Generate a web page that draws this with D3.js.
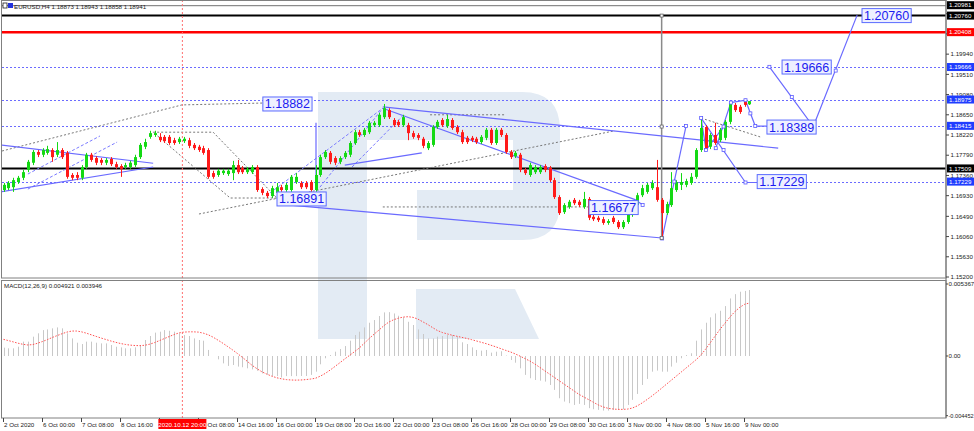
<!DOCTYPE html>
<html><head><meta charset="utf-8">
<script src="https://cdn.jsdelivr.net/npm/d3@7"></script>
<style>body{margin:0;background:#fff;overflow:hidden}svg{display:block;font-family:"Liberation Sans",Arial,sans-serif}</style>
</head><body><svg id="c" width="974" height="431"></svg>
<script>
// ---------- DATA ----------
const xLabels = ["2 Oct 2020","6 Oct 00:00","7 Oct 08:00","8 Oct 16:00","12 Oct 00:00","13 Oct 08:00","14 Oct 16:00","16 Oct 00:00","19 Oct 08:00","20 Oct 16:00","22 Oct 00:00","23 Oct 08:00","26 Oct 16:00","28 Oct 00:00","29 Oct 08:00","30 Oct 16:00","3 Nov 00:00","4 Nov 08:00","5 Nov 16:00","9 Nov 00:00"];
const priceTicks = [1.15200,1.15630,1.16060,1.16490,1.16930,1.17360,1.17790,1.18220,1.18650,1.19080,1.19510,1.19940,1.20370,1.20800];
const open = [1.1705,1.1709,1.1711,1.1722,1.1731,1.1748,1.1763,1.1786,1.1780,1.1784,
1.1790,1.1780,1.1790,1.1784,1.1737,1.1737,1.1731,1.1754,1.1780,1.1773,
1.1769,1.1763,1.1771,1.1760,1.1756,1.1754,1.1754,1.1758,1.1775,1.1797,
1.1818,1.1822,1.1818,1.1818,1.1818,1.1811,1.1807,1.1809,1.1811,1.1801,
1.1797,1.1794,1.1790,1.1741,1.1737,1.1741,1.1739,1.1741,1.1758,1.1752,
1.1743,1.1743,1.1754,1.1707,1.1699,1.1692,1.1699,1.1711,1.1705,1.1705,
1.1722,1.1720,1.1720,1.1722,1.1705,1.1737,1.1775,1.1784,1.1773,1.1765,
1.1775,1.1780,1.1805,1.1828,1.1822,1.1828,1.1843,1.1843,1.1860,1.1875,
1.1854,1.1850,1.1843,1.1843,1.1826,1.1822,1.1814,1.1794,1.1801,1.1839,
1.1854,1.1841,1.1854,1.1839,1.1828,1.1816,1.1816,1.1814,1.1807,1.1816,
1.1833,1.1805,1.1833,1.1822,1.1786,1.1777,1.1780,1.1748,1.1737,1.1743,
1.1743,1.1756,1.1752,1.1726,1.1690,1.1658,1.1669,1.1684,1.1680,1.1669,
1.1686,1.1648,1.1646,1.1643,1.1635,1.1646,1.1637,1.1626,1.1637,1.1652,
1.1673,1.1694,1.1701,1.1709,1.1711,1.1684,1.1656,1.1673,1.1705,1.1716,
1.1716,1.1720,1.1733,1.1790,1.1839,1.1797,1.1822,1.1811,1.1816,1.1850,
1.1886,1.1882,1.1896,1.18873];
const high = [1.1720,1.1724,1.1731,1.1735,1.1748,1.1769,1.1790,1.1790,1.1794,1.1799,
1.1794,1.1807,1.1794,1.1788,1.1741,1.1743,1.1758,1.1784,1.1784,1.1777,
1.1773,1.1773,1.1775,1.1765,1.1760,1.1763,1.1767,1.1780,1.1805,1.1814,
1.1831,1.1831,1.1826,1.1822,1.1822,1.1816,1.1818,1.1818,1.1816,1.1805,
1.1801,1.1799,1.1794,1.1746,1.1750,1.1750,1.1750,1.1767,1.1769,1.1756,
1.1754,1.1758,1.1758,1.1711,1.1703,1.1714,1.1720,1.1716,1.1720,1.1737,
1.1741,1.1724,1.1724,1.1726,1.1758,1.1780,1.1790,1.1788,1.1777,1.1777,
1.1788,1.1809,1.1833,1.1833,1.1837,1.1852,1.1852,1.1869,1.1888,1.1879,
1.1858,1.1854,1.1865,1.1848,1.1831,1.1826,1.1818,1.1809,1.1843,1.1854,
1.1858,1.1865,1.1858,1.1843,1.1833,1.1820,1.1820,1.1818,1.1822,1.1837,
1.1837,1.1837,1.1837,1.1826,1.1790,1.1788,1.1784,1.1752,1.1763,1.1758,
1.1758,1.1760,1.1756,1.1731,1.1694,1.1677,1.1684,1.1688,1.1684,1.1701,
1.1690,1.1652,1.1650,1.1648,1.1643,1.1650,1.1641,1.1641,1.1656,1.1682,
1.1699,1.1716,1.1720,1.1726,1.1769,1.1688,1.1680,1.1743,1.1726,1.1741,
1.1729,1.1741,1.1794,1.1858,1.1843,1.1826,1.1848,1.1837,1.1854,1.1894,
1.1890,1.1886,1.1899,1.18943];
const low = [1.1701,1.1705,1.1701,1.1718,1.1726,1.1743,1.1758,1.1775,1.1775,1.1780,
1.1765,1.1775,1.1771,1.1729,1.1726,1.1726,1.1726,1.1750,1.1765,1.1758,
1.1758,1.1758,1.1756,1.1750,1.1733,1.1750,1.1750,1.1754,1.1771,1.1792,
1.1814,1.1818,1.1807,1.1805,1.1801,1.1801,1.1803,1.1805,1.1794,1.1790,
1.1786,1.1780,1.1729,1.1729,1.1733,1.1737,1.1735,1.1726,1.1739,1.1739,
1.1739,1.1739,1.1701,1.1694,1.1688,1.1688,1.1694,1.1701,1.1701,1.1701,
1.1718,1.1707,1.1707,1.1701,1.1701,1.1733,1.1771,1.1760,1.1758,1.1760,
1.1771,1.1775,1.1801,1.1818,1.1818,1.1824,1.1839,1.1839,1.1856,1.1856,
1.1839,1.1839,1.1839,1.1811,1.1814,1.1811,1.1794,1.1790,1.1797,1.1835,
1.1839,1.1837,1.1833,1.1824,1.1803,1.1803,1.1807,1.1803,1.1803,1.1811,
1.1801,1.1801,1.1818,1.1782,1.1771,1.1773,1.1743,1.1737,1.1733,1.1739,
1.1739,1.1743,1.1722,1.1686,1.1652,1.1654,1.1665,1.1673,1.1669,1.1665,
1.1641,1.1639,1.1637,1.1631,1.1631,1.1633,1.1622,1.1622,1.1633,1.1648,
1.1669,1.1690,1.1697,1.1705,1.1680,1.1603,1.1652,1.1669,1.1701,1.1705,
1.1711,1.1716,1.1729,1.1786,1.1790,1.1792,1.1801,1.1807,1.1811,1.1845,
1.1871,1.1867,1.1882,1.18858];
const close = [1.1716,1.1720,1.1726,1.1731,1.1743,1.1765,1.1786,1.1780,1.1790,1.1792,
1.1775,1.1790,1.1775,1.1733,1.1731,1.1731,1.1754,1.1780,1.1769,1.1763,
1.1763,1.1769,1.1760,1.1754,1.1750,1.1758,1.1763,1.1775,1.1801,1.1807,
1.1826,1.1826,1.1811,1.1809,1.1805,1.1805,1.1814,1.1814,1.1799,1.1794,
1.1790,1.1784,1.1733,1.1733,1.1746,1.1746,1.1746,1.1758,1.1743,1.1743,
1.1750,1.1754,1.1705,1.1699,1.1692,1.1709,1.1711,1.1705,1.1716,1.1733,
1.1733,1.1711,1.1711,1.1705,1.1737,1.1775,1.1786,1.1765,1.1763,1.1773,
1.1784,1.1805,1.1828,1.1822,1.1833,1.1848,1.1848,1.1865,1.1879,1.1860,
1.1843,1.1843,1.1860,1.1826,1.1818,1.1816,1.1799,1.1805,1.1839,1.1850,
1.1843,1.1856,1.1837,1.1828,1.1807,1.1807,1.1811,1.1807,1.1818,1.1833,
1.1805,1.1833,1.1822,1.1786,1.1775,1.1784,1.1748,1.1741,1.1758,1.1754,
1.1754,1.1748,1.1726,1.1690,1.1656,1.1673,1.1680,1.1677,1.1673,1.1686,
1.1646,1.1643,1.1641,1.1635,1.1639,1.1637,1.1626,1.1637,1.1652,1.1677,
1.1694,1.1709,1.1716,1.1720,1.1684,1.1656,1.1675,1.1709,1.1722,1.1722,
1.1724,1.1733,1.1790,1.1837,1.1794,1.1822,1.1805,1.1833,1.1850,1.1890,
1.1875,1.1871,1.1886,1.18941];
const macdHist = [0.00062,0.00057,0.00057,0.00069,0.00107,0.00107,0.00144,0.00169,0.00193,0.00198,
0.00206,0.00213,0.00206,0.00169,0.00131,0.00099,0.00089,0.00107,0.00107,0.00099,
0.00094,0.00094,0.00082,0.00069,0.00064,0.00057,0.00057,0.00064,0.00082,0.00119,
0.00149,0.00174,0.00181,0.00193,0.00188,0.00181,0.00169,0.00156,0.00149,0.00131,
0.00119,0.00114,0.00045,0.00000,-0.00025,-0.00055,-0.00074,-0.00067,-0.00079,-0.00084,
-0.00092,-0.00100,-0.00110,-0.00130,-0.00140,-0.00150,-0.00150,-0.00160,-0.00150,-0.00150,
-0.00150,-0.00149,-0.00149,-0.00141,-0.00117,-0.00062,-0.00017,0.00007,0.00032,0.00052,
0.00074,0.00114,0.00156,0.00181,0.00213,0.00248,0.00268,0.00298,0.00325,0.00327,
0.00317,0.00300,0.00288,0.00255,0.00231,0.00198,0.00164,0.00131,0.00131,0.00144,
0.00149,0.00156,0.00156,0.00144,0.00102,0.00089,0.00064,0.00045,0.00040,0.00045,
0.00025,0.00032,0.00035,0.00003,-0.00030,-0.00050,-0.00092,-0.00141,-0.00166,-0.00179,
-0.00184,-0.00191,-0.00216,-0.00253,-0.00315,-0.00340,-0.00352,-0.00365,-0.00357,-0.00365,
-0.00389,-0.00397,-0.00402,-0.00407,-0.00407,-0.00402,-0.00402,-0.00397,-0.00365,-0.00327,
-0.00283,-0.00216,-0.00171,-0.00117,-0.00109,-0.00117,-0.00117,-0.00079,-0.00050,-0.00017,
0.00007,0.00020,0.00114,0.00198,0.00248,0.00288,0.00317,0.00337,0.00372,0.00429,
0.00461,0.00479,0.00485,0.00492];
const macdSignal = [0.00124,0.00115,0.00105,0.00095,0.00087,0.00082,0.00085,0.00095,0.00108,0.00122,
0.00138,0.00152,0.00166,0.00178,0.00186,0.00186,0.00180,0.00170,0.00158,0.00146,
0.00134,0.00123,0.00112,0.00102,0.00093,0.00086,0.00081,0.00078,0.00077,0.00080,
0.00088,0.00100,0.00115,0.00130,0.00145,0.00160,0.00172,0.00178,0.00180,0.00180,
0.00178,0.00170,0.00158,0.00140,0.00118,0.00095,0.00070,0.00045,0.00018,-0.00010,
-0.00040,-0.00070,-0.00095,-0.00118,-0.00135,-0.00150,-0.00162,-0.00170,-0.00176,-0.00179,
-0.00180,-0.00179,-0.00176,-0.00172,-0.00166,-0.00150,-0.00130,-0.00105,-0.00078,-0.00050,
-0.00022,0.00005,0.00032,0.00060,0.00095,0.00130,0.00162,0.00193,0.00225,0.00252,
0.00270,0.00282,0.00290,0.00293,0.00288,0.00275,0.00255,0.00235,0.00212,0.00190,
0.00175,0.00165,0.00155,0.00147,0.00139,0.00131,0.00122,0.00112,0.00102,0.00092,
0.00080,0.00068,0.00055,0.00042,0.00030,0.00015,-0.00002,-0.00020,-0.00038,-0.00060,
-0.00085,-0.00110,-0.00135,-0.00160,-0.00185,-0.00210,-0.00235,-0.00260,-0.00285,-0.00305,
-0.00325,-0.00345,-0.00365,-0.00380,-0.00390,-0.00395,-0.00398,-0.00398,-0.00396,-0.00388,
-0.00372,-0.00350,-0.00325,-0.00298,-0.00270,-0.00240,-0.00210,-0.00180,-0.00150,-0.00120,
-0.00090,-0.00060,-0.00030,0.00005,0.00050,0.00100,0.00150,0.00200,0.00245,0.00290,
0.00330,0.00362,0.00385,0.00395];
// level lines and right-axis markers
const solidLevels = [{p:1.20760,c:"#000"},{p:1.20408,c:"#ff0000"},{p:1.17509,c:"#000"}];
const dottedLevels = [1.19666,1.18975,1.18415,1.17229];
const axisMarks = [{p:1.20981,bg:"#000"},{p:1.20760,bg:"#000"},{p:1.20408,bg:"#ff0000"},{p:1.19666,bg:"#1f3dff"},{p:1.18975,bg:"#1f3dff"},{p:1.18415,bg:"#1f3dff"},{p:1.17509,bg:"#000"},{p:1.17229,bg:"#1f3dff"}];
const macdTicks = [{v:0.005367,t:"0.005367"},{v:0,t:"0.00"},{v:-0.004452,t:"-0.004452"}];
// annotation objects in (bar index, price)
const grayDotted = [
 [[40.1,1.1654],[125.4,1.1831]],
 [[77.8,1.1669],[120.3,1.1669]],
 [[30.7,1.1828],[43,1.1828],[56.1,1.1688],[46.5,1.1688],[30.7,1.1828]],
 [[-0.3,1.1788],[36.6,1.1886],[53.2,1.1890]],
 [[87.5,1.1865],[102.9,1.1865]],
 [[143.1,1.1858],[155.2,1.1818]]
];
const blueSolid = [
 [[-0.7,1.1801],[30.7,1.1762]],
 [[-0.7,1.1701],[30.7,1.1754]],
 [[64.1,1.1848],[64.1,1.1705]],
 [[77.8,1.1882],[158.9,1.1794]],
 [[77.8,1.1879],[129.7,1.1684]],
 [[56.5,1.1675],[135.1,1.1603]],
 [[70,1.1758],[85.8,1.1784]],
 [[129.7,1.1684],[131.1,1.1673]],
 [[135.1,1.1602],[140,1.1841]],
 [[143.1,1.1858],[144.1,1.1790],[147.7,1.1840]],
 [[146.1,1.1794],[149.2,1.1891],[152.2,1.1896],[154.2,1.1841],[156.6,1.1841]],
 [[143.1,1.1858],[152.2,1.1721],[154.6,1.1721]],
 [[157.1,1.1967],[166.1,1.1840],[175.1,1.2077]]
];
const blueDashed = [
 [[5,1.1739],[19.8,1.1820]],
 [[5,1.1707],[23.3,1.1807]],
 [[54.7,1.1699],[77.8,1.1879]],
 [[64.9,1.1711],[77.8,1.1879]],
 [[71.5,1.1754],[82,1.1864]]
];
const handles = [[135.1,1.1602],[137.6,1.1723],[140,1.1841],[143.1,1.1858],[144.1,1.1790],[146.1,1.1794],[147.7,1.1840],[147.7,1.1790],[149.2,1.1891],[152.2,1.1896],[153.2,1.1868],[154.2,1.1841],[152.2,1.1721],[157.1,1.1967],[161.7,1.1903],[166.1,1.1840],[170.7,1.1959],[131.1,1.1673]];
const grayHandles = [[135,1.2076],[135,1.1840],[135,1.1603]];
const priceBoxes = [
 {t:"1.18882",i:53.2,p:1.1888},{t:"1.16891",i:56.1,p:1.1686},{t:"1.16677",i:120.1,p:1.16677},
 {t:"1.20760",i:176.1,p:1.2076},{t:"1.19666",i:159.7,p:1.19666},{t:"1.18389",i:156.6,p:1.18389},{t:"1.17229",i:154.6,p:1.17229}
];
const header = "EURUSD,H4  1.18873 1.18943 1.18858 1.18941";
const macdHeader = "MACD(12,26,9) 0.004921 0.003946";
const markerBar = 37, markerLabel = "2020.10.12 20:00";

// ---------- LAYOUT ----------
const L=2, R=946, T=0, MB=278, ST=280, SB=418;
const svg = d3.select("#c");
const x = d3.scaleLinear().domain([0,153]).range([3.5,749.4]);
const y = d3.scaleLinear().domain([1.152,1.20981]).range([277,5.2]);
const ym = d3.scaleLinear().domain([-0.004452,0.005367]).range([415.7,284]);
const n = open.length;

svg.append("rect").attr("width",974).attr("height",431).attr("fill","#fff");
const defs = svg.append("defs");
defs.append("clipPath").attr("id","cm").append("rect").attr("x",L).attr("y",T).attr("width",R-L).attr("height",MB-T);
defs.append("clipPath").attr("id","cs").append("rect").attr("x",L).attr("y",ST).attr("width",R-L).attr("height",SB-ST);

// watermark
const wm = svg.append("g").attr("fill","#e3ebf4");
wm.append("path").attr("d","M318,92 H522 Q560,92 560,130 V202 Q560,240 522,240 H417 V190 H513 V140 H367 V339 H318 Z");
wm.append("path").attr("d","M416,289 H515 L539,339 H416 Z");

const gm = svg.append("g").attr("clip-path","url(#cm)");
const gs = svg.append("g").attr("clip-path","url(#cs)");

// level lines
dottedLevels.forEach(p=>gm.append("line").attr("x1",L).attr("x2",R).attr("y1",Math.round(y(p))+0.5).attr("y2",Math.round(y(p))+0.5)
  .attr("stroke","#6b6bff").attr("stroke-width",1).attr("stroke-dasharray","2,2"));
gm.append("line").attr("x1",L).attr("x2",R).attr("y1",y(1.20981)+0.5).attr("y2",y(1.20981)+0.5).attr("stroke","#707070").attr("stroke-width",1);
solidLevels.forEach(d=>gm.append("line").attr("x1",L).attr("x2",R).attr("y1",y(d.p)).attr("y2",y(d.p))
  .attr("stroke",d.c).attr("stroke-width",d.c==="#000"?2:2.5));

// vertical marker lines
svg.append("line").attr("x1",x(markerBar)-1.5).attr("x2",x(markerBar)-1.5).attr("y1",T).attr("y2",SB)
  .attr("stroke","#ff7070").attr("stroke-width",1).attr("stroke-dasharray","2,2");
gm.append("line").attr("x1",x(135)).attr("x2",x(135)).attr("y1",y(1.2076)).attr("y2",y(1.1603)).attr("stroke","#8a8a8a").attr("stroke-width",1.5);

const line = d3.line().x(d=>x(d[0])).y(d=>y(d[1]));
grayDotted.forEach(pts=>gm.append("path").attr("d",line(pts)).attr("fill","none").attr("stroke","#777").attr("stroke-width",1).attr("stroke-dasharray","2,2"));
blueDashed.forEach(pts=>gm.append("path").attr("d",line(pts)).attr("fill","none").attr("stroke","#7a7aff").attr("stroke-width",1).attr("stroke-dasharray","3,2"));
blueSolid.forEach(pts=>gm.append("path").attr("d",line(pts)).attr("fill","none").attr("stroke","#6a6aff").attr("stroke-width",1.2));

// candles
for(let i=0;i<n;i++){
  const up = close[i]>=open[i];
  const col = up?"#14d914":"#ff1a1a";
  const cx = Math.round(x(i))+0.5;
  gm.append("line").attr("x1",cx).attr("x2",cx).attr("y1",y(high[i])).attr("y2",y(low[i])).attr("stroke",col).attr("stroke-width",1);
  const t = y(Math.max(open[i],close[i])), b = y(Math.min(open[i],close[i]));
  gm.append("rect").attr("x",cx-1.5).attr("y",t).attr("width",3).attr("height",Math.max(1,b-t)).attr("fill",col);
}

// handles
handles.forEach(d=>gm.append("rect").attr("x",x(d[0])-1.5).attr("y",y(d[1])-1.5).attr("width",3).attr("height",3).attr("fill","#fff").attr("stroke","#5b5bff").attr("stroke-width",0.8));
grayHandles.forEach(d=>gm.append("rect").attr("x",x(d[0])-1.5).attr("y",y(d[1])-1.5).attr("width",3).attr("height",3).attr("fill","#fff").attr("stroke","#666").attr("stroke-width",0.8));

// price boxes
priceBoxes.forEach(b=>{
  const g = gm.append("g");
  const tx = g.append("text").attr("x",x(b.i)+2).attr("y",y(b.p)+4.5).attr("font-size",12.5).attr("fill","#1b1bf0").text(b.t);
  const w = tx.node().getComputedTextLength();
  g.insert("rect","text").attr("x",x(b.i)).attr("y",y(b.p)-7).attr("width",w+4).attr("height",14).attr("fill","#eef0ff").attr("stroke","#5b6bff").attr("stroke-width",1);
});

// MACD
for(let i=0;i<n;i++){
  const cx = Math.round(x(i))+0.5;
  gs.append("line").attr("x1",cx).attr("x2",cx).attr("y1",ym(0)).attr("y2",ym(macdHist[i])).attr("stroke","#c8c8c8").attr("stroke-width",1);
}
gs.append("path").attr("d",d3.line().x((d,i)=>x(i)).y(d=>ym(d))(macdSignal)).attr("fill","none").attr("stroke","#ff5050").attr("stroke-width",1).attr("stroke-dasharray","1.5,1.5");

// frames
const fr = svg.append("g").attr("stroke","#808080").attr("fill","none");
fr.append("rect").attr("x",1.5).attr("y",0.5).attr("width",R-1.5).attr("height",MB-0.5).attr("stroke-width",1);
fr.append("rect").attr("x",1.5).attr("y",ST+0.5).attr("width",R-1.5).attr("height",SB-ST-0.5).attr("stroke-width",1);
fr.append("line").attr("x1",R).attr("x2",R).attr("y1",0).attr("y2",SB).attr("stroke-width",1.2);

// right axis
const ax = svg.append("g").attr("font-size",6.2).attr("fill","#222");
priceTicks.forEach(p=>{
  if(y(p)<3) return;
  ax.append("line").attr("x1",R).attr("x2",R+3).attr("y1",y(p)).attr("y2",y(p)).attr("stroke","#444");
  ax.append("text").attr("x",R+4.5).attr("y",y(p)+2.2).text(p.toFixed(5));
});
axisMarks.forEach(m=>{
  ax.append("rect").attr("x",R+1).attr("y",y(m.p)-4).attr("width",27).attr("height",8).attr("fill",m.bg);
  ax.append("text").attr("x",R+3).attr("y",y(m.p)+2.2).attr("fill","#fff").text(m.p.toFixed(5));
});
macdTicks.forEach(d=>{
  ax.append("line").attr("x1",R).attr("x2",R+2).attr("y1",ym(d.v)).attr("y2",ym(d.v)).attr("stroke","#444");
  ax.append("text").attr("x",R+2.5).attr("y",ym(d.v)+2.2).attr("font-size",d.v<0?5.6:6.2).text(d.t);
});

// bottom axis
const bx = svg.append("g").attr("font-size",6.2).attr("fill","#222");
const mx = x(markerBar)-1.5;
xLabels.forEach((t,k)=>{
  const xx = Math.round(x(k*8))-1;
  bx.append("line").attr("x1",xx+0.5).attr("x2",xx+0.5).attr("y1",SB).attr("y2",SB+4).attr("stroke","#444");
  if(Math.abs(xx-(mx-24))<4) return; // hidden under the marker label
  bx.append("text").attr("x",xx+1).attr("y",SB+9).text(t);
});
bx.append("rect").attr("x",mx-24).attr("y",SB+1).attr("width",48).attr("height",10).attr("fill","#ff0000");
bx.append("text").attr("x",mx).attr("y",SB+8.5).attr("text-anchor","middle").attr("fill","#fff").text(markerLabel);

// headers
svg.append("rect").attr("x",3).attr("y",3).attr("width",4).attr("height",5).attr("fill","#fff").attr("stroke","#222").attr("stroke-width",0.8);
svg.append("rect").attr("x",8).attr("y",3).attr("width",5).attr("height",5).attr("fill","#2233dd");
svg.append("text").attr("x",14).attr("y",8.5).attr("font-size",6.2).attr("fill","#222").text(header);
svg.append("text").attr("x",4).attr("y",288).attr("font-size",6.2).attr("fill","#222").text(macdHeader);
</script></body></html>
